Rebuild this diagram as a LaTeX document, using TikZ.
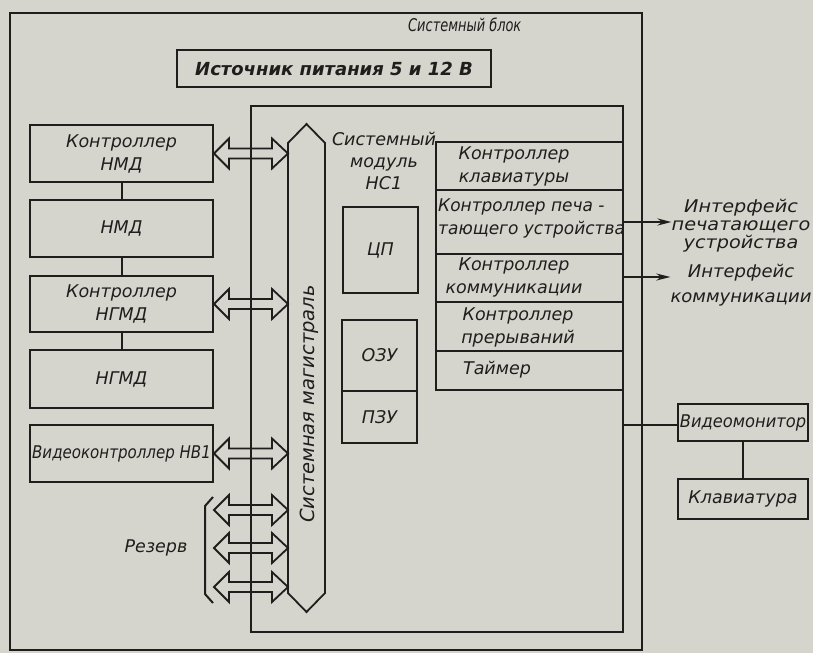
\documentclass[tikz,border=0pt]{standalone}
\usepackage{fontspec}
\usepackage{graphicx}
\setmainfont{DejaVu Sans}
\usetikzlibrary{calc,arrows.meta}
\definecolor{paper}{RGB}{213,213,206}
\definecolor{ink}{RGB}{30,30,28}
\newcommand\sx[2]{\scalebox{#1}[1]{\begin{tabular}{@{}c@{}}#2\end{tabular}}}
\newcommand\dblarr[2]{%
  \draw[arr] let \p1=(#1), \p2=(#2) in
    (\x1,\y1) -- (\x1+15pt,\y1+15pt) -- (\x1+15pt,\y1+5pt) -- (\x2-16pt,\y1+5pt)
    -- (\x2-16pt,\y1+15pt) -- (\x2,\y1) -- (\x2-16pt,\y1-15pt) -- (\x2-16pt,\y1-5pt)
    -- (\x1+15pt,\y1-5pt) -- (\x1+15pt,\y1-15pt) -- cycle;}
\begin{document}
\begin{tikzpicture}[x=1pt,y=-1pt,
  every node/.style={inner sep=0pt, text=ink, font=\fontsize{17.5}{23}\selectfont\itshape},
  box/.style={draw=ink, line width=2pt, rectangle, align=center},
  frame/.style={draw=ink, line width=2.4pt, rectangle},
  ln/.style={draw=ink, line width=2pt},
  arr/.style={draw=ink, line width=1.8pt, line join=miter},
  txt/.style={align=center}]
% background / bounding box
\fill[paper] (0,0) rectangle (813,653);
\useasboundingbox (0,0) rectangle (813,653);

% system block
\node[frame, minimum width=632pt, minimum height=637pt] (blk) at (326,331.5) {};
\node[anchor=west] (blkt) at (408,27) {\sx{0.74}{Системный блок}};

% power supply
\node[box, minimum width=314pt, minimum height=37pt, font=\fontsize{18}{22}\selectfont\bfseries\itshape] (pwr) at (334,68.5) {Источник питания 5 и 12 В};

% system module
\node[box, minimum width=372pt, minimum height=526pt] (mod) at (437,369) {};
\node[txt, font=\fontsize{17.5}{22}\selectfont\itshape] (modt) at (384,161) {Системный\\модуль\\НС1};

% left column
\node[box, minimum width=183pt, minimum height=57pt] (knmd) at (121.5,153.5) {Контроллер\\НМД};
\node[box, minimum width=183pt, minimum height=57pt] (nmd) at (121.5,228.5) {НМД};
\node[box, minimum width=183pt, minimum height=56pt] (kngmd) at (121.5,304) {Контроллер\\НГМД};
\node[box, minimum width=183pt, minimum height=58pt] (ngmd) at (121.5,379) {НГМД};
\node[box, minimum width=183pt, minimum height=57pt] (video) at (121.5,453.5) {\sx{0.86}{Видеоконтроллер НВ1}};

\draw[ln] (knmd) -- (nmd);
\draw[ln] (nmd) -- (kngmd);
\draw[ln] (kngmd) -- (ngmd);

% CPU, RAM, ROM
\node[box, minimum width=75pt, minimum height=86pt] (cpu) at (380.5,250) {ЦП};
\node[box, minimum width=75pt, minimum height=71pt] (ram) at (379.5,355.5) {ОЗУ};
\node[box, minimum width=75pt, minimum height=52pt] (rom) at (379.5,417) {ПЗУ};

% right column controllers
\node[box, minimum width=187pt, minimum height=48pt] (kbd) at (529.5,166) {};
\node[box, minimum width=187pt, minimum height=64pt] (prn) at (529.5,222) {};
\node[box, minimum width=187pt, minimum height=48pt] (com) at (529.5,278) {};
\node[box, minimum width=187pt, minimum height=49pt] (irq) at (529.5,326.5) {};
\node[box, minimum width=187pt, minimum height=39pt] (tmr) at (529.5,370.5) {};
\node[txt] (kbdt) at (514,166.5) {Контроллер\\клавиатуры};
\node[anchor=west] (prnt) at (438,218) {\scalebox{0.97}[1]{\begin{tabular}{@{}l@{}}Контроллер печа -\\тающего устройства\end{tabular}}};
\node[txt] (comt) at (514,277) {Контроллер\\коммуникации};
\node[txt] (irqt) at (518,327) {Контроллер\\прерываний};
\node[txt] (tmrt) at (497,370) {Таймер};

% system bus
\coordinate (busL) at (288,370);
\draw[arr] (288,143) -- (306.5,124) -- (325,143) -- (325,593) -- (306.5,612) -- (288,593) -- cycle;
\node[rotate=90, font=\fontsize{19.5}{23}\selectfont\itshape] (bust) at (309,404) {Системная магистраль};

% double arrows
\dblarr{knmd.east}{knmd.east -| busL}
\dblarr{kngmd.east}{kngmd.east -| busL}
\dblarr{video.east}{video.east -| busL}
\coordinate (r1) at (214,510);
\coordinate (r2) at (214,548);
\coordinate (r3) at (214,587);
\dblarr{r1}{r1 -| busL}
\dblarr{r2}{r2 -| busL}
\dblarr{r3}{r3 -| busL}

% reserve bracket
\draw[ln] (213,497) -- (205,506) -- (205,594) -- (213,603);
\node (rsv) at (156,548) {Резерв};

% external interfaces
\node (ifp) at (741,226) {\sx{1.1}{Интерфейс\\[-5pt]печатающего\\[-5pt]устройства}};
\node (ifc) at (741,285) {\sx{1.03}{Интерфейс\\[2pt]коммуникации}};
\draw[ln, -{Stealth[length=14pt,width=7pt]}] (prn.east) -- (prn.east -| ifp.west);
\draw[ln, -{Stealth[length=14pt,width=7pt]}] (com.east |- 0,277) coordinate (cs) -- (cs -| ifc.west);

% video monitor and keyboard
\node[box, minimum width=130pt, minimum height=37pt] (vm) at (743,422.5) {\sx{0.93}{Видеомонитор}};
\node[box, minimum width=130pt, minimum height=40pt] (kb) at (743,499) {Клавиатура};
\draw[ln] (mod.east |- 0,425) coordinate (cv) -- (cv -| vm.west);
\draw[ln] (vm) -- (kb);
\end{tikzpicture}
\end{document}
